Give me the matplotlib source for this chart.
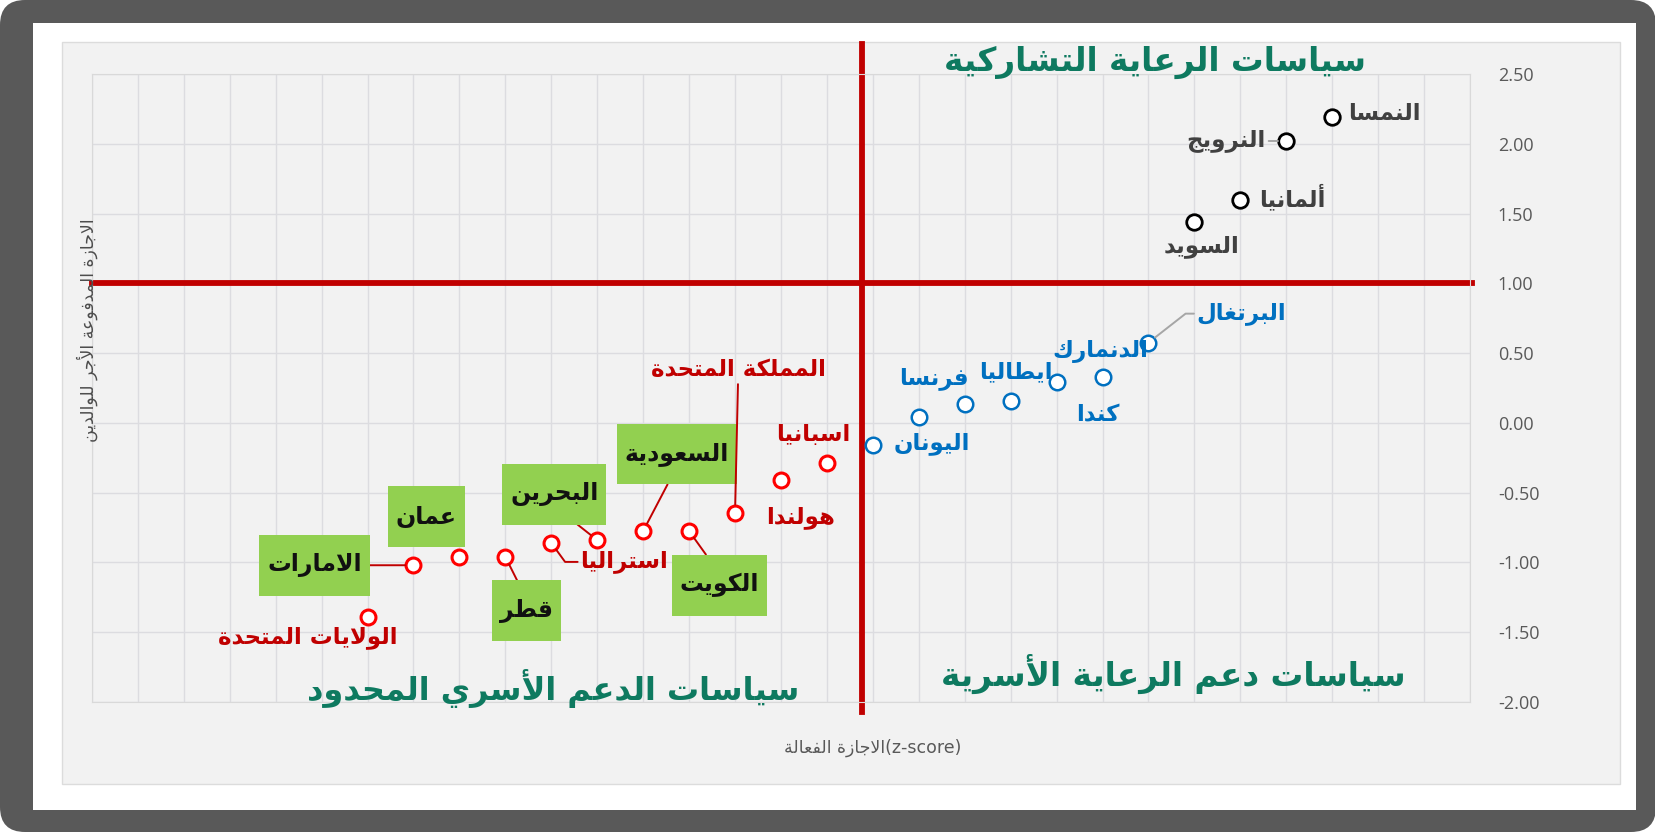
import numpy as np
import matplotlib
matplotlib.use("Agg")
import matplotlib.pyplot as plt
from matplotlib.patches import FancyBboxPatch, Rectangle
from matplotlib.path import Path
from matplotlib.ticker import FormatStrFormatter

plt.rcParams['font.family'] = ['DejaVu Sans']

# ---------------- data ----------------
black_names = ['السويد', 'ألمانيا', 'النرويج', 'النمسا']
black_x = [24, 25, 26, 27]
black_y = [1.44, 1.60, 2.02, 2.19]

blue_names = ['اليونان', '', 'فرنسا', 'ايطاليا', 'كندا', 'الدنمارك', 'البرتغال']
blue_x = [17, 18, 19, 20, 21, 22, 23]
blue_y = [-0.16, 0.04, 0.135, 0.16, 0.295, 0.33, 0.575]

red_names = ['الولايات المتحدة', 'الامارات', 'عمان', 'قطر', 'استراليا', 'البحرين',
             'السعودية', 'الكويت', 'المملكة المتحدة', 'هولندا', 'اسبانيا']
red_x = [6, 7, 8, 9, 10, 11, 12, 13, 14, 15, 16]
red_y = [-1.39, -1.02, -0.96, -0.96, -0.86, -0.84, -0.775, -0.775, -0.645, -0.41, -0.285]

gulf = ['الامارات', 'عمان', 'قطر', 'البحرين', 'السعودية', 'الكويت']

quadrant_titles = ['سياسات الرعاية التشاركية', 'سياسات دعم الرعاية الأسرية',
                   'سياسات الدعم الأسري المحدود']
x_title = 'الاجازة الفعالة'
y_title = 'الاجازة المدفوعة الأجر للوالدين'
y_ticks = [-2.0, -1.5, -1.0, -0.5, 0.0, 0.5, 1.0, 1.5, 2.0, 2.5]

# label offsets in pixels (dx right, dy up) from each point
label_offsets = {
    'السويد': (7, -25), 'ألمانيا': (52, 2), 'النرويج': (-60, 0), 'النمسا': (52, 4),
    'اليونان': (59, 2), 'فرنسا': (-31, 26), 'ايطاليا': (5, 29), 'كندا': (41, -33),
    'الدنمارك': (-2, 25), 'البرتغال': (93, 29),
    'الولايات المتحدة': (-60, -21), 'الامارات': (-99, 0), 'عمان': (-33, 40),
    'قطر': (21, -54), 'استراليا': (73, -19), 'البحرين': (-43, 46),
    'السعودية': (34, 77), 'الكويت': (30, -54), 'المملكة المتحدة': (3, 143),
    'هولندا': (20, -37), 'اسبانيا': (-14, 28),
}
# leader lines: relpos on the label, connection style, colour
leaders = {
    'الامارات': ((1, 0.5), 'arc3', '#c00000'),
    'قطر': ((0.5, 1), 'arc3', '#c00000'),
    'البحرين': ((0.5, 0), 'arc3', '#c00000'),
    'السعودية': ((0.5, 0), 'arc3', '#c00000'),
    'الكويت': ((0.5, 1), 'arc3', '#c00000'),
    'المملكة المتحدة': ((0.5, 0), 'arc3', '#c00000'),
    'استراليا': ((0, 0.5), 'angle,angleA=0,angleB=-54,rad=0', '#c00000'),
    'البرتغال': ((0, 0.5), 'angle,angleA=0,angleB=38,rad=0', '#a6a6a6'),
    'النرويج': ((1, 0.5), 'arc3', '#a6a6a6'),
}

# ---------------- arabic shaping (no complex text layout in mpl 3.10) ----------------
BASE = {
    'ء': (0xFE80, 1), 'آ': (0xFE81, 2), 'أ': (0xFE83, 2), 'ؤ': (0xFE85, 2), 'إ': (0xFE87, 2),
    'ئ': (0xFE89, 4), 'ا': (0xFE8D, 2), 'ب': (0xFE8F, 4), 'ة': (0xFE93, 2), 'ت': (0xFE95, 4),
    'ث': (0xFE99, 4), 'ج': (0xFE9D, 4), 'ح': (0xFEA1, 4), 'خ': (0xFEA5, 4), 'د': (0xFEA9, 2),
    'ذ': (0xFEAB, 2), 'ر': (0xFEAD, 2), 'ز': (0xFEAF, 2), 'س': (0xFEB1, 4), 'ش': (0xFEB5, 4),
    'ص': (0xFEB9, 4), 'ض': (0xFEBD, 4), 'ط': (0xFEC1, 4), 'ظ': (0xFEC5, 4), 'ع': (0xFEC9, 4),
    'غ': (0xFECD, 4), 'ف': (0xFED1, 4), 'ق': (0xFED5, 4), 'ك': (0xFED9, 4), 'ل': (0xFEDD, 4),
    'م': (0xFEE1, 4), 'ن': (0xFEE5, 4), 'ه': (0xFEE9, 4), 'و': (0xFEED, 2), 'ى': (0xFEEF, 2),
    'ي': (0xFEF1, 4),
}
LAM_ALEF = {'آ': 0xFEF5, 'أ': 0xFEF7, 'إ': 0xFEF9, 'ا': 0xFEFB}


def rtl(text):
    items = []
    i = 0
    while i < len(text):
        c = text[i]
        if c == 'ل' and i + 1 < len(text) and text[i + 1] in LAM_ALEF:
            items.append((LAM_ALEF[text[i + 1]], 2))
            i += 2
        elif c in BASE:
            items.append(BASE[c])
            i += 1
        else:
            items.append((c, 0))
            i += 1
    out = []
    for k, (code, n) in enumerate(items):
        if n == 0:
            out.append(code)
            continue
        prev = k > 0 and items[k - 1][1] == 4
        nxt = n == 4 and k + 1 < len(items) and items[k + 1][1] in (2, 4)
        if n == 1:
            form = 0
        elif prev and nxt:
            form = 3
        elif prev:
            form = 1
        elif nxt:
            form = 2
        else:
            form = 0
        out.append(chr(code + form))
    return ''.join(out[::-1])


def green_box(x0, y0, width, height, mutation_size):
    px, py = 0.33 * mutation_size, 0.78 * mutation_size
    x0, y0 = x0 - px, y0 - py
    x1, y1 = x0 + width + 2 * px, y0 + height + 2 * py
    return Path([(x0, y0), (x1, y0), (x1, y1), (x0, y1), (x0, y0)], closed=True)


# ---------------- figure ----------------
fig = plt.figure(figsize=(16.56, 8.32), dpi=100, facecolor='white')

fig.patches.append(FancyBboxPatch((0, 0), 16.56, 8.32, boxstyle='round,pad=0,rounding_size=0.25',
                                  transform=fig.dpi_scale_trans, facecolor='#595959',
                                  edgecolor='none', zorder=-3))
fig.patches.append(Rectangle((33 / 1656, 1 - 810 / 832), (1636 - 33) / 1656, (810 - 23) / 832,
                             transform=fig.transFigure, facecolor='white', edgecolor='none',
                             zorder=-2))
fig.patches.append(Rectangle((62 / 1656, 1 - 784 / 832), (1620 - 62) / 1656, (784 - 42) / 832,
                             transform=fig.transFigure, facecolor='#f2f2f2', edgecolor='#dcdcdc',
                             lw=1, zorder=-1))

ax = fig.add_axes([0.0555, 0.15625, 0.8322, 0.7548])
ax.set_facecolor('#f2f2f2')
ax.set_xlim(0, 30)
ax.set_ylim(-2.0, 2.5)
ax.set_xticks(np.arange(0, 31, 1))
ax.set_yticks(y_ticks)
ax.grid(True, color='#dcdce0', lw=1)
ax.set_axisbelow(True)
ax.tick_params(axis='x', length=0, labelbottom=False)
ax.yaxis.tick_right()
ax.tick_params(axis='y', length=0, pad=20, labelsize=13, labelcolor='#595959')
ax.yaxis.set_major_formatter(FormatStrFormatter('%.2f'))
for lab in ax.get_yticklabels():
    lab.set_family('Open Sans')
    lab.set_horizontalalignment('left')
for sp in ax.spines.values():
    sp.set_color('#d9d9d9')

# quadrant dividers
ax.plot([16.77, 16.77], [-0.016, 1.048], color='#c00000', lw=4.2,
        transform=ax.get_xaxis_transform(), clip_on=False, zorder=2)
ax.plot([0, 30.05], [1.0, 1.0], color='#c00000', lw=4.2, clip_on=False, zorder=2)

# points
ax.scatter(black_x, black_y, s=125, facecolor='white', edgecolor='black', lw=2.0, zorder=4)
ax.scatter(blue_x, blue_y, s=125, facecolor='white', edgecolor='#0070c0', lw=1.8, zorder=4)
ax.scatter(red_x, red_y, s=115, facecolor='white', edgecolor='#ff0000', lw=2.2, zorder=4)

# labels
groups = [(black_names, black_x, black_y, '#404040'),
          (blue_names, blue_x, blue_y, '#0070c0'),
          (red_names, red_x, red_y, '#c00000')]
for names, xs, ys, col in groups:
    for name, x, y in zip(names, xs, ys):
        if not name:
            continue
        kw = dict(fontsize=16.5, fontweight='bold', color=col)
        if name in gulf:
            kw.update(color='#111111', fontsize=17,
                      bbox=dict(boxstyle=green_box, facecolor='#92d050', edgecolor='none'))
        if name in leaders:
            rel, conn, lcol = leaders[name]
            kw['arrowprops'] = dict(arrowstyle='-', color=lcol, lw=1.4, relpos=rel,
                                    connectionstyle=conn, shrinkA=0, shrinkB=6)
        ax.annotate(rtl(name), (x, y), xytext=label_offsets[name], textcoords='offset pixels',
                    ha='center', va='center', zorder=5, **kw)

# quadrant titles
teal = '#0e7a60'
fig.text(1155 / 1656, 1 - 62 / 832, rtl(quadrant_titles[0]), ha='center', va='center',
         fontsize=23.5, fontweight='bold', color=teal)
fig.text(1173 / 1656, 1 - 674 / 832, rtl(quadrant_titles[1]), ha='center', va='center',
         fontsize=23.5, fontweight='bold', color=teal)
fig.text(553 / 1656, 1 - 689 / 832, rtl(quadrant_titles[2]), ha='center', va='center',
         fontsize=23, fontweight='bold', color=teal)

# axis titles
fig.text(873 / 1656, 1 - 748 / 832, rtl(x_title) + '(z-score)', ha='center', va='center',
         fontsize=12.5, color='#595959')
fig.text(87 / 1656, 1 - 330 / 832, rtl(y_title), ha='center', va='center', rotation=90,
         fontsize=12.5, color='#4d4d4d')

fig.savefig('out.png', dpi=100, facecolor='white')
